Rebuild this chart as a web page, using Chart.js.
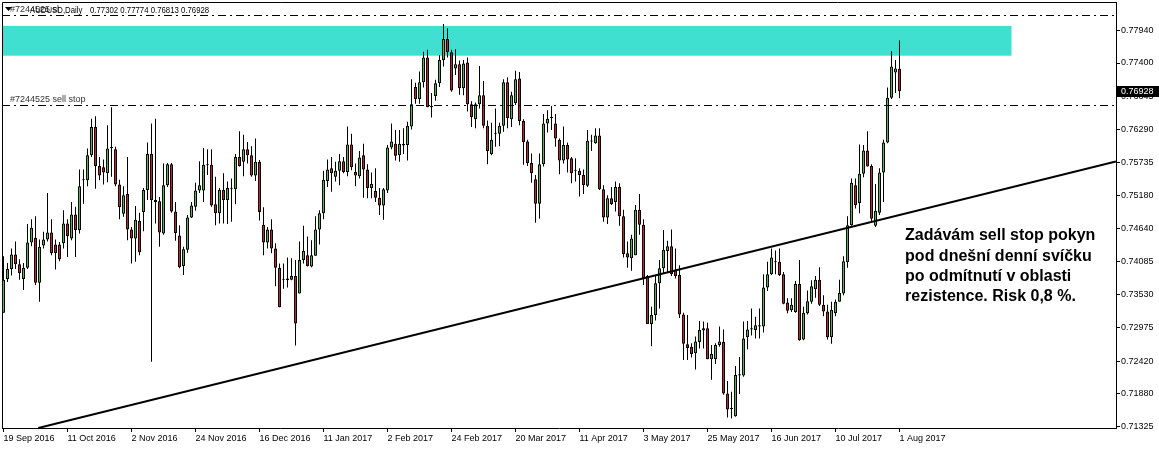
<!DOCTYPE html>
<html lang="cs">
<head>
<meta charset="UTF-8">
<title>AUDUSD Daily</title>
<script src="https://cdn.jsdelivr.net/npm/chart.js@4"></script>
<style>
  html, body { margin: 0; padding: 0; background: #fff; }
  #wrap { width: 1159px; height: 450px; position: relative; }
</style>
</head>
<body>
<div id="wrap"><canvas id="chart"></canvas></div>
<script>
// daily candles, 19 Sep 2016 .. 1 Aug 2017
const opens = [
  0.7323,0.7379,0.7396,0.7420,0.7404,0.7379,0.7398,0.7440,0.7448,0.7373,0.7435,0.7445,0.7457,0.7437,0.7437,0.7439,
  0.7472,0.7447,0.7487,0.7461,0.7544,0.7544,0.7586,0.7633,0.7568,0.7566,0.7556,0.7598,0.7596,0.7537,0.7488,0.7521,
  0.7462,0.7447,0.7476,0.7491,0.7528,0.7588,0.7511,0.7509,0.7455,0.7536,0.7571,0.7492,0.7452,0.7401,0.7428,0.7482,
  0.7500,0.7527,0.7527,0.7570,0.7570,0.7504,0.7489,0.7528,0.7511,0.7530,0.7529,0.7583,0.7575,0.7596,0.7586,0.7552,
  0.7575,0.7470,0.7440,0.7462,0.7430,0.7398,0.7378,0.7377,0.7378,0.7384,0.7355,0.7411,0.7419,0.7400,0.7418,0.7462,
  0.7489,0.7543,0.7564,0.7550,0.7560,0.7576,0.7558,0.7604,0.7558,0.7551,0.7586,0.7562,0.7531,0.7526,0.7515,0.7502,
  0.7527,0.7599,0.7605,0.7586,0.7605,0.7603,0.7634,0.7700,0.7680,0.7708,0.7749,0.7668,0.7685,0.7706,0.7745,0.7780,
  0.7758,0.7731,0.7738,0.7698,0.7741,0.7671,0.7646,0.7671,0.7686,0.7635,0.7588,0.7622,0.7622,0.7635,0.7708,0.7646,
  0.7673,0.7714,0.7643,0.7609,0.7573,0.7546,0.7505,0.7571,0.7639,0.7648,0.7639,0.7612,0.7577,0.7603,0.7581,0.7561,
  0.7560,0.7553,0.7535,0.7609,0.7606,0.7619,0.7529,0.7482,0.7514,0.7508,0.7533,0.7484,0.7422,0.7414,0.7419,0.7495,
  0.7470,0.7384,0.7304,0.7319,0.7372,0.7397,0.7426,0.7434,0.7394,0.7386,0.7320,0.7270,0.7266,0.7255,0.7274,0.7293,
  0.7297,0.7245,0.7245,0.7269,0.7274,0.7188,0.7162,0.7150,0.7218,0.7218,0.7282,0.7295,0.7294,0.7300,0.7300,0.7365,
  0.7387,0.7408,0.7408,0.7387,0.7340,0.7327,0.7324,0.7371,0.7278,0.7322,0.7341,0.7362,0.7378,0.7336,0.7325,0.7282,
  0.7322,0.7341,0.7355,0.7407,0.7469,0.7536,0.7506,0.7555,0.7594,0.7568,0.7468,0.7490,0.7557,0.7607,0.7682,0.7724,
  0.77302
];
const highs = [
  0.7417,0.7406,0.7430,0.7442,0.7412,0.7406,0.7471,0.7479,0.7484,0.7445,0.7458,0.7523,0.7479,0.7445,0.7441,0.7494,
  0.7479,0.7508,0.7500,0.7562,0.7562,0.7597,0.7647,0.7651,0.7583,0.7579,0.7636,0.7666,0.7600,0.7545,0.7534,0.7583,
  0.7466,0.7501,0.7490,0.7531,0.7607,0.7639,0.7647,0.7516,0.7572,0.7573,0.7573,0.7508,0.7469,0.7433,0.7486,0.7508,
  0.7540,0.7576,0.7598,0.7596,0.7596,0.7550,0.7531,0.7556,0.7542,0.7547,0.7588,0.7626,0.7620,0.7608,0.7601,0.7614,
  0.7578,0.7499,0.7466,0.7479,0.7439,0.7405,0.7405,0.7415,0.7414,0.7411,0.7442,0.7468,0.7450,0.7444,0.7484,0.7494,
  0.7560,0.7579,0.7583,0.7575,0.7588,0.7583,0.7634,0.7622,0.7572,0.7593,0.7605,0.7571,0.7557,0.7564,0.7531,0.7531,
  0.7603,0.7639,0.7628,0.7628,0.7631,0.7642,0.7713,0.7707,0.7726,0.7759,0.7762,0.7690,0.7712,0.7753,0.7805,0.7798,
  0.7762,0.7763,0.7744,0.7745,0.7749,0.7676,0.7674,0.7735,0.7710,0.7644,0.7640,0.7664,0.7640,0.7713,0.7716,0.7692,
  0.7727,0.7725,0.7646,0.7612,0.7589,0.7553,0.7589,0.7655,0.7661,0.7668,0.7655,0.7614,0.7634,0.7607,0.7583,0.7581,
  0.7564,0.7562,0.7628,0.7620,0.7631,0.7631,0.7536,0.7519,0.7533,0.7542,0.7539,0.7495,0.7442,0.7453,0.7503,0.7521,
  0.7479,0.7386,0.7333,0.7384,0.7411,0.7461,0.7443,0.7462,0.7430,0.7402,0.7323,0.7319,0.7272,0.7283,0.7309,0.7308,
  0.7306,0.7269,0.7272,0.7300,0.7295,0.7209,0.7191,0.7234,0.7249,0.7308,0.7309,0.7330,0.7316,0.7330,0.7387,0.7408,
  0.7430,0.7427,0.7430,0.7391,0.7347,0.7347,0.7376,0.7411,0.7333,0.7360,0.7377,0.7384,0.7399,0.7352,0.7336,0.7341,
  0.7345,0.7378,0.7417,0.7484,0.7547,0.7547,0.7604,0.7603,0.7626,0.7571,0.7538,0.7564,0.7612,0.7699,0.7760,0.7745,
  0.77774
];
const lows = [
  0.7323,0.7374,0.7385,0.7396,0.7378,0.7361,0.7396,0.7434,0.7369,0.7341,0.7430,0.7442,0.7419,0.7395,0.7409,0.7430,
  0.7416,0.7444,0.7416,0.7455,0.7505,0.7534,0.7583,0.7530,0.7544,0.7537,0.7541,0.7550,0.7534,0.7479,0.7483,0.7444,
  0.7405,0.7408,0.7419,0.7459,0.7511,0.7241,0.7472,0.7433,0.7453,0.7533,0.7490,0.7443,0.7397,0.7386,0.7423,0.7481,
  0.7493,0.7523,0.7508,0.7553,0.7500,0.7469,0.7472,0.7472,0.7471,0.7475,0.7504,0.7567,0.7551,0.7572,0.7550,0.7543,
  0.7477,0.7419,0.7430,0.7422,0.7367,0.7332,0.7363,0.7365,0.7377,0.7268,0.7355,0.7405,0.7400,0.7399,0.7418,0.7437,
  0.7479,0.7533,0.7525,0.7542,0.7536,0.7556,0.7551,0.7561,0.7534,0.7547,0.7515,0.7514,0.7514,0.7508,0.7486,0.7478,
  0.7523,0.7596,0.7577,0.7575,0.7588,0.7577,0.7629,0.7672,0.7672,0.7699,0.7666,0.7649,0.7677,0.7700,0.7734,0.7749,
  0.7692,0.7720,0.7687,0.7686,0.7659,0.7633,0.7631,0.7664,0.7631,0.7571,0.7586,0.7600,0.7601,0.7625,0.7631,0.7633,
  0.7670,0.7636,0.7570,0.7568,0.7540,0.7473,0.7480,0.7567,0.7624,0.7628,0.7600,0.7554,0.7572,0.7557,0.7539,0.7542,
  0.7517,0.7521,0.7533,0.7593,0.7605,0.7528,0.7475,0.7471,0.7503,0.7492,0.7468,0.7415,0.7398,0.7393,0.7419,0.7453,
  0.7369,0.7304,0.7267,0.7310,0.7330,0.7388,0.7391,0.7384,0.7380,0.7314,0.7244,0.7244,0.7248,0.7228,0.7263,0.7263,
  0.7245,0.7211,0.7237,0.7266,0.7186,0.7148,0.7146,0.7149,0.7187,0.7216,0.7262,0.7285,0.7280,0.7280,0.7290,0.7359,
  0.7386,0.7387,0.7384,0.7337,0.7322,0.7324,0.7323,0.7276,0.7277,0.7320,0.7338,0.7348,0.7334,0.7317,0.7278,0.7271,
  0.7317,0.7341,0.7352,0.7398,0.7468,0.7497,0.7489,0.7549,0.7567,0.7473,0.7466,0.7486,0.7508,0.7606,0.7680,0.7690,
  0.76813
];
const closes = [
  0.7378,0.7396,0.7420,0.7404,0.7389,0.7398,0.7440,0.7465,0.7373,0.7433,0.7445,0.7457,0.7422,0.7422,0.7412,0.7472,
  0.7451,0.7487,0.7461,0.7534,0.7545,0.7586,0.7633,0.7568,0.7552,0.7557,0.7597,0.7599,0.7537,0.7499,0.7519,0.7462,
  0.7447,0.7478,0.7424,0.7528,0.7588,0.7511,0.7508,0.7457,0.7536,0.7571,0.7492,0.7456,0.7399,0.7429,0.7482,0.7502,
  0.7527,0.7536,0.7570,0.7569,0.7502,0.7489,0.7528,0.7511,0.7531,0.7531,0.7583,0.7568,0.7596,0.7586,0.7552,0.7575,
  0.7491,0.7440,0.7462,0.7430,0.7398,0.7332,0.7379,0.7380,0.7384,0.7305,0.7411,0.7426,0.7401,0.7419,0.7462,0.7489,
  0.7545,0.7562,0.7556,0.7560,0.7576,0.7558,0.7604,0.7566,0.7552,0.7582,0.7562,0.7531,0.7538,0.7515,0.7502,0.7529,
  0.7599,0.7609,0.7585,0.7605,0.7602,0.7635,0.7671,0.7680,0.7708,0.7749,0.7666,0.7666,0.7706,0.7745,0.7780,0.7758,
  0.7694,0.7738,0.7698,0.7739,0.7671,0.7650,0.7671,0.7686,0.7635,0.7593,0.7612,0.7623,0.7635,0.7708,0.7648,0.7686,
  0.7713,0.7643,0.7608,0.7573,0.7556,0.7505,0.7571,0.7639,0.7647,0.7649,0.7614,0.7577,0.7603,0.7579,0.7556,0.7560,
  0.7553,0.7536,0.7610,0.7610,0.7619,0.7529,0.7482,0.7514,0.7504,0.7533,0.7484,0.7421,0.7415,0.7447,0.7495,0.7470,
  0.7380,0.7304,0.7319,0.7372,0.7397,0.7428,0.7434,0.7387,0.7384,0.7320,0.7271,0.7264,0.7254,0.7275,0.7294,0.7297,
  0.7245,0.7254,0.7269,0.7275,0.7188,0.7161,0.7163,0.7219,0.7220,0.7280,0.7295,0.7297,0.7302,0.7302,0.7365,0.7387,
  0.7415,0.7407,0.7386,0.7338,0.7326,0.7336,0.7371,0.7277,0.7323,0.7342,0.7367,0.7378,0.7336,0.7325,0.7282,0.7328,
  0.7341,0.7356,0.7409,0.7469,0.7540,0.7503,0.7555,0.7594,0.7567,0.7480,0.7493,0.7557,0.7607,0.7682,0.7734,0.7731,
  0.76928
];

// every 16th bar gets a date label
const tickLabels = ['19 Sep 2016','11 Oct 2016','2 Nov 2016','24 Nov 2016','16 Dec 2016','11 Jan 2017','2 Feb 2017',
  '24 Feb 2017','20 Mar 2017','11 Apr 2017','3 May 2017','25 May 2017','16 Jun 2017','10 Jul 2017','1 Aug 2017'];
const priceTicks = [0.77940,0.77400,0.76845,0.76290,0.75735,0.75180,0.74640,0.74085,0.73530,0.72975,0.72420,0.71880,0.71325];

// drawings on the chart
const resistZone = [0.78020, 0.77522];   // top, bottom price
const zoneEndBar = 252;
const slLevel = 0.78197;
const sellStopLevel = 0.76694;
const trendLine = [{x: 8.7, y: 0.71303}, {x: 278.1, y: 0.75755}];
const noteLines = ['Zadávám sell stop pokyn', 'pod dnešní denní svíčku', 'po odmítnutí v oblasti', 'rezistence. Risk 0,8 %.'];
const noteAnchor = {x: 225.4, y: 0.7451};

const FONT = '"Liberation Sans", Arial, sans-serif';
const UP = '#32cd32', DOWN = '#d21e1e';

const bodyColors = opens.map((o, i) => closes[i] >= o ? UP : DOWN);

// no extra padding around the plot area for the tick labels
function noPad(s) {
  s.paddingLeft = 0; s.paddingRight = 0; s.paddingTop = 0; s.paddingBottom = 0;
}

// header text is narrower than the axis font
function narrowText(ctx, text, x, y) {
  ctx.save();
  ctx.translate(x, y);
  ctx.scale(0.82, 1);
  ctx.fillText(text, 0, 0);
  ctx.restore();
}

const overlay = {
  id: 'overlay',
  beforeDatasetsDraw(chart) {
    const {ctx, chartArea: a, scales: {x, y}} = chart;
    ctx.save();
    ctx.fillStyle = '#40e0d0';
    const zx = x.getPixelForValue(zoneEndBar);
    const zy1 = y.getPixelForValue(resistZone[0]);
    const zy2 = y.getPixelForValue(resistZone[1]);
    ctx.fillRect(a.left, zy1, zx - a.left, zy2 - zy1);
    ctx.restore();
  },
  afterDatasetsDraw(chart) {
    const {ctx, chartArea: a, scales: {x, y}} = chart;
    ctx.save();
    ctx.strokeStyle = '#000';
    ctx.lineWidth = 1;
    ctx.setLineDash([8, 4, 2, 4]);
    [slLevel, sellStopLevel].forEach(v => {
      const py = Math.round(y.getPixelForValue(v)) + 0.5;
      ctx.beginPath();
      ctx.moveTo(a.left, py);
      ctx.lineTo(a.right, py);
      ctx.stroke();
    });
    ctx.setLineDash([]);

    // order labels
    ctx.font = '9px ' + FONT;
    ctx.fillStyle = '#333';
    ctx.textBaseline = 'bottom';
    ctx.fillText('#7244525 sell stop', a.left + 8, Math.round(y.getPixelForValue(sellStopLevel)) - 1);
    ctx.fillText('#7244525 sl', a.left + 8, Math.round(y.getPixelForValue(slLevel)) - 1);

    // note text
    ctx.fillStyle = '#000';
    ctx.font = 'bold 16px ' + FONT;
    ctx.textBaseline = 'middle';
    const nx = x.getPixelForValue(noteAnchor.x);
    const ny = y.getPixelForValue(noteAnchor.y);
    noteLines.forEach((t, k) => ctx.fillText(t, nx, ny + k * 20.3));
    ctx.restore();
  },
  afterDraw(chart) {
    const {ctx, chartArea: a, scales: {y}} = chart;
    ctx.save();
    // frame
    ctx.strokeStyle = '#000';
    ctx.lineWidth = 1;
    ctx.beginPath();
    ctx.moveTo(a.left + 0.5, a.bottom);
    ctx.lineTo(a.left + 0.5, a.top + 0.5);
    ctx.lineTo(a.right, a.top + 0.5);
    ctx.stroke();

    // header
    ctx.fillStyle = '#000';
    ctx.beginPath();
    ctx.moveTo(5, 7); ctx.lineTo(12, 7); ctx.lineTo(8.5, 11);
    ctx.closePath(); ctx.fill();
    ctx.font = '9.5px ' + FONT;
    ctx.textBaseline = 'middle';
    narrowText(ctx, 'AUDUSD,Daily', 30, 10);
    narrowText(ctx, [opens, highs, lows, closes].map(s => s[s.length - 1].toFixed(5)).join(' '), 90, 10);

    // last price box
    const last = closes[closes.length - 1];
    const py = Math.round(y.getPixelForValue(last));
    ctx.fillStyle = '#000';
    ctx.fillRect(a.right, py - 5, chart.width - a.right, 11);
    ctx.fillStyle = '#fff';
    ctx.font = '9px ' + FONT;
    ctx.fillText(last.toFixed(5), a.right + 5, py + 0.5);
    ctx.restore();
  }
};

new Chart(document.getElementById('chart'), {
  type: 'bar',
  data: {
    datasets: [
      {
        type: 'line',
        data: trendLine,
        borderColor: '#000',
        borderWidth: 2,
        pointRadius: 0,
        order: 0
      },
      {
        data: opens.map((o, i) => ({x: i, y: [o, closes[i]]})),
        backgroundColor: bodyColors,
        borderColor: '#000',
        borderWidth: 1,
        borderSkipped: false,
        inflateAmount: 0,
        barThickness: 3,
        maxBarThickness: 3,
        minBarLength: 1,
        grouped: false,
        order: 1
      },
      {
        data: lows.map((l, i) => ({x: i, y: [l, highs[i]]})),
        backgroundColor: '#000',
        borderWidth: 0,
        inflateAmount: 0,
        barThickness: 1,
        maxBarThickness: 1,
        grouped: false,
        order: 2
      }
    ]
  },
  options: {
    responsive: true,
    maintainAspectRatio: false,
    animation: false,
    layout: { padding: { left: 2, top: 2, right: 0, bottom: 0 } },
    plugins: { legend: { display: false }, tooltip: { enabled: false } },
    scales: {
      x: {
        type: 'linear',
        offset: false,
        min: -0.375,
        max: 278.125,
        afterBuildTicks: s => { s.ticks = tickLabels.map((_, k) => ({ value: k * 16 })); },
        afterFit: s => { s.height = 22; noPad(s); },
        ticks: {
          autoSkip: false,
          maxRotation: 0,
          align: 'start',
          padding: 1,
          color: '#000',
          font: { family: FONT, size: 9 },
          callback: (v, idx) => tickLabels[idx]
        },
        grid: { drawOnChartArea: false, offset: false, tickLength: 4, color: '#000' },
        border: { color: '#000' }
      },
      y: {
        position: 'right',
        min: 0.71303,
        max: 0.78419,
        afterBuildTicks: s => { s.ticks = priceTicks.map(v => ({ value: v })); },
        afterFit: s => { s.width = 43; noPad(s); },
        ticks: {
          autoSkip: false,
          padding: 1,
          color: '#000',
          font: { family: FONT, size: 9 },
          callback: v => v.toFixed(5)
        },
        grid: { drawOnChartArea: false, tickLength: 4, color: '#000' },
        border: { color: '#000' }
      }
    }
  },
  plugins: [overlay]
});
</script>
</body>
</html>
